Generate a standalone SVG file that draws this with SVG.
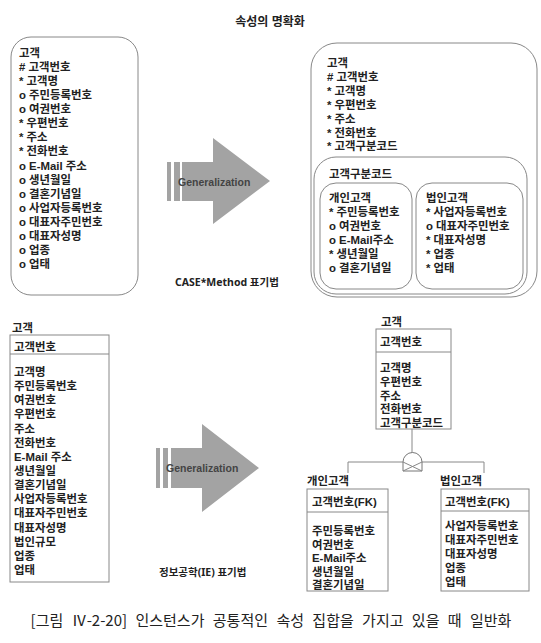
<svg xmlns="http://www.w3.org/2000/svg" width="541" height="643" viewBox="0 0 541 643">
<style>
  .t{font-family:"Liberation Sans","Noto Sans CJK KR",sans-serif;font-size:11.4px;font-weight:bold;fill:#222;dominant-baseline:central;transform:translateY(1px)}
  .rb{fill:#fff;stroke:#888;stroke-width:1}
  .tb{fill:#fff;stroke:#888;stroke-width:1}
  .ln{stroke:#888;stroke-width:1;fill:none}
  .ar{fill:#a3a3a3}
  .gen{font-family:"Liberation Sans",Arial,sans-serif;font-size:10.5px;font-weight:bold;fill:#444;dominant-baseline:central}
  .lbl{font-family:"Noto Sans","Noto Sans CJK KR",sans-serif;font-size:10.5px;font-weight:bold;fill:#222;dominant-baseline:central}
</style>
<rect width="541" height="643" fill="#fff"/>

<g id="title"><text class="t" x="270" y="21" text-anchor="middle" style="font-size:12px">속성의 명확화</text></g>

<g id="case-customer">
  <rect class="rb" x="11" y="37" width="127" height="258" rx="20"/>
  <text class="t"><tspan x="19" y="52">고객</tspan><tspan x="19" dy="14.07"># 고객번호</tspan><tspan x="19" dy="14.07">* 고객명</tspan><tspan x="19" dy="14.07">o 주민등록번호</tspan><tspan x="19" dy="14.07">o 여권번호</tspan><tspan x="19" dy="14.07">* 우편번호</tspan><tspan x="19" dy="14.07">* 주소</tspan><tspan x="19" dy="14.07">* 전화번호</tspan><tspan x="19" dy="14.07">o E-Mail 주소</tspan><tspan x="19" dy="14.07">o 생년월일</tspan><tspan x="19" dy="14.07">o 결혼기념일</tspan><tspan x="19" dy="14.07">o 사업자등록번호</tspan><tspan x="19" dy="14.07">o 대표자주민번호</tspan><tspan x="19" dy="14.07">o 대표자성명</tspan><tspan x="19" dy="14.07">o 업종</tspan><tspan x="19" dy="14.07">o 업태</tspan></text>
</g>

<g id="arrow-top">
  <rect class="ar" x="167" y="162" width="4" height="39"/>
  <rect class="ar" x="174" y="162" width="6" height="39"/>
  <polygon class="ar" points="182,162 213,162 213,138 270,181 213,224 213,201 182,201"/>
  <text class="gen" x="178" y="182">Generalization</text>
</g>
<g id="label-case"><text class="lbl" x="175" y="282">CASE*Method 표기법</text></g>

<g id="case-customer-gen">
  <rect class="rb" x="311" y="43" width="226" height="254" rx="26"/>
  <text class="t"><tspan x="327" y="62">고객</tspan><tspan x="327" dy="13.9"># 고객번호</tspan><tspan x="327" dy="13.9">* 고객명</tspan><tspan x="327" dy="13.9">* 우편번호</tspan><tspan x="327" dy="13.9">* 주소</tspan><tspan x="327" dy="13.9">* 전화번호</tspan><tspan x="327" dy="13.9">* 고객구분코드</tspan></text>
  <g id="case-code">
    <rect class="rb" x="314" y="157" width="213" height="137" rx="22"/>
    <text class="t" x="329" y="173">고객구분코드</text>
  </g>
  <g id="case-individual">
    <rect class="rb" x="320" y="183" width="92" height="106" rx="16"/>
    <text class="t"><tspan x="329" y="197">개인고객</tspan><tspan x="329" dy="14">* 주민등록번호</tspan><tspan x="329" dy="14">o 여권번호</tspan><tspan x="329" dy="14">o E-Mail주소</tspan><tspan x="329" dy="14">* 생년월일</tspan><tspan x="329" dy="14">o 결혼기념일</tspan></text>
  </g>
  <g id="case-corporate">
    <rect class="rb" x="416" y="183" width="107" height="106" rx="16"/>
    <text class="t"><tspan x="426" y="197">법인고객</tspan><tspan x="426" dy="14">* 사업자등록번호</tspan><tspan x="426" dy="14">o 대표자주민번호</tspan><tspan x="426" dy="14">* 대표자성명</tspan><tspan x="426" dy="14">* 업종</tspan><tspan x="426" dy="14">* 업태</tspan></text>
  </g>
</g>

<g id="ie-customer">
  <text class="t" x="12" y="327">고객</text>
  <rect class="tb" x="10" y="335" width="99" height="247"/>
  <line class="ln" x1="10" y1="354" x2="109" y2="354"/>
  <text class="t" x="14" y="346">고객번호</text>
  <text class="t"><tspan x="14" y="371">고객명</tspan><tspan x="14" dy="14.14">주민등록번호</tspan><tspan x="14" dy="14.14">여권번호</tspan><tspan x="14" dy="14.14">우편번호</tspan><tspan x="14" dy="14.14">주소</tspan><tspan x="14" dy="14.14">전화번호</tspan><tspan x="14" dy="14.14">E-Mail 주소</tspan><tspan x="14" dy="14.14">생년월일</tspan><tspan x="14" dy="14.14">결혼기념일</tspan><tspan x="14" dy="14.14">사업자등록번호</tspan><tspan x="14" dy="14.14">대표자주민번호</tspan><tspan x="14" dy="14.14">대표자성명</tspan><tspan x="14" dy="14.14">법인규모</tspan><tspan x="14" dy="14.14">업종</tspan><tspan x="14" dy="14.14">업태</tspan></text>
</g>

<g id="arrow-bottom">
  <rect class="ar" x="156" y="448" width="4" height="40"/>
  <rect class="ar" x="163" y="448" width="5" height="40"/>
  <polygon class="ar" points="171,448 202,448 202,424 259,468 202,512 202,488 171,488"/>
  <text class="gen" x="166" y="468">Generalization</text>
</g>
<g id="label-ie"><text class="lbl" x="159" y="572">정보공학(IE) 표기법</text></g>

<g id="connectors">
  <line class="ln" x1="412" y1="429" x2="412" y2="453"/>
  <line class="ln" x1="348" y1="462" x2="403" y2="462"/>
  <line class="ln" x1="422" y1="462" x2="484" y2="462"/>
  <line class="ln" x1="348" y1="462" x2="348" y2="473"/>
  <line class="ln" x1="484" y1="462" x2="484" y2="473"/>
  <path d="M403,471 L403,462 A9.5,9.5 0 0 1 422,462 L422,471 Z" fill="#fff" stroke="#777" stroke-width="1"/>
  <path class="ln" d="M403,462 L422,471 M422,462 L403,471" stroke="#777"/>
</g>

<g id="ie-super">
  <text class="t" x="381" y="321">고객</text>
  <rect class="tb" x="376" y="329" width="75" height="100"/>
  <line class="ln" x1="376" y1="352" x2="451" y2="352"/>
  <text class="t" x="380" y="341">고객번호</text>
  <text class="t"><tspan x="380" y="367">고객명</tspan><tspan x="380" dy="13.75">우편번호</tspan><tspan x="380" dy="13.75">주소</tspan><tspan x="380" dy="13.75">전화번호</tspan><tspan x="380" dy="13.75">고객구분코드</tspan></text>
</g>

<g id="ie-individual">
  <text class="t" x="307" y="480">개인고객</text>
  <rect class="tb" x="307" y="489" width="81" height="102"/>
  <line class="ln" x1="307" y1="512" x2="388" y2="512"/>
  <text class="t" x="312" y="501">고객번호(FK)</text>
  <text class="t"><tspan x="312" y="530">주민등록번호</tspan><tspan x="312" dy="13.6">여권번호</tspan><tspan x="312" dy="13.6">E-Mail주소</tspan><tspan x="312" dy="13.6">생년월일</tspan><tspan x="312" dy="13.6">결혼기념일</tspan></text>
</g>

<g id="ie-corporate">
  <text class="t" x="440" y="480">법인고객</text>
  <rect class="tb" x="441" y="489" width="88" height="102"/>
  <line class="ln" x1="441" y1="511" x2="529" y2="511"/>
  <text class="t" x="445" y="501">고객번호(FK)</text>
  <text class="t"><tspan x="445" y="525">사업자등록번호</tspan><tspan x="445" dy="14">대표자주민번호</tspan><tspan x="445" dy="14">대표자성명</tspan><tspan x="445" dy="14">업종</tspan><tspan x="445" dy="14">업태</tspan></text>
</g>

<g id="caption"><text x="271" y="619" text-anchor="middle" style="font-family:'Noto Sans CJK KR','Noto Sans',sans-serif;font-size:15px;fill:#222;dominant-baseline:central;word-spacing:5px">[그림 Ⅳ-2-20] 인스턴스가 공통적인 속성 집합을 가지고 있을 때 일반화</text></g>
</svg>
